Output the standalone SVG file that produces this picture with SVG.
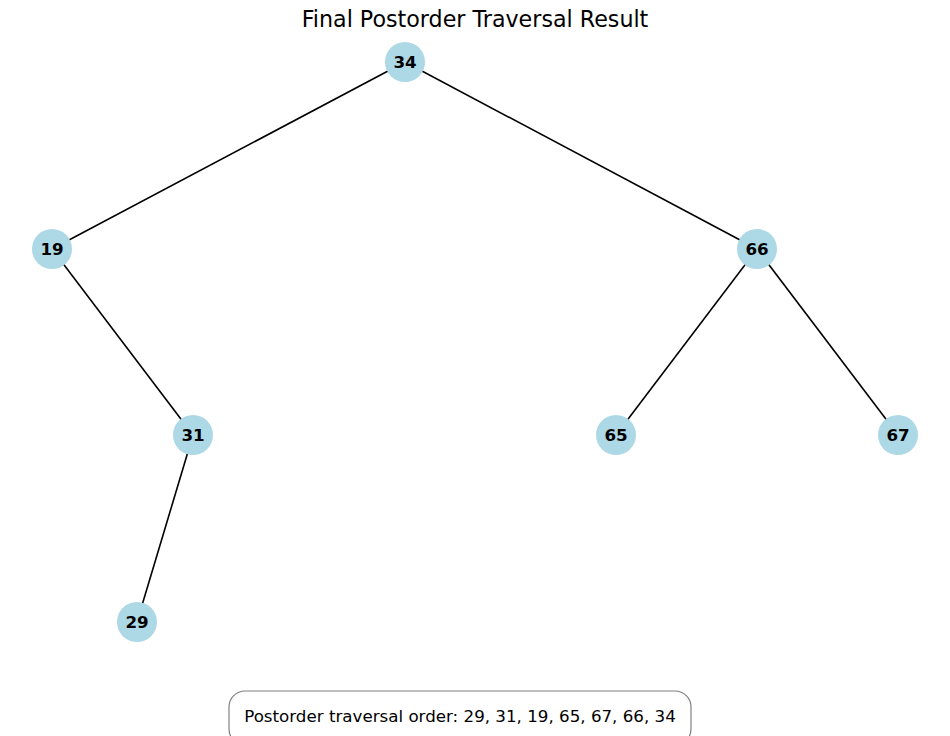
<svg xmlns="http://www.w3.org/2000/svg" width="950" height="736" viewBox="0 0 950 736">
<style>
.edge{stroke:#000;stroke-width:1.6;fill:none}
.node circle{fill:#add8e6}
.node text{font-family:"DejaVu Sans",sans-serif;font-weight:bold;font-size:16.7px;fill:#000;text-anchor:middle;dominant-baseline:central}
.title{font-family:"DejaVu Sans",sans-serif;font-size:22.2px;fill:#000;text-anchor:middle}
.caption{font-family:"DejaVu Sans",sans-serif;font-size:16.7px;fill:#000;text-anchor:middle}
</style>
<rect width="950" height="736" fill="#fff"/>
<text class="title" x="475" y="27">Final Postorder Traversal Result</text>
<g id="edges">
<line class="edge" x1="405" y1="62" x2="52" y2="249"/>
<line class="edge" x1="405" y1="62" x2="757" y2="249"/>
<line class="edge" x1="52" y1="249" x2="193" y2="435"/>
<line class="edge" x1="757" y1="249" x2="616" y2="435"/>
<line class="edge" x1="757" y1="249" x2="898" y2="435"/>
<line class="edge" x1="193" y1="435" x2="137" y2="622"/>
</g>
<g id="n34" class="node"><circle cx="405" cy="62" r="20"/><text x="405" y="62">34</text></g>
<g id="n19" class="node"><circle cx="52" cy="249" r="20"/><text x="52" y="249">19</text></g>
<g id="n66" class="node"><circle cx="757" cy="249" r="20"/><text x="757" y="249">66</text></g>
<g id="n31" class="node"><circle cx="193" cy="435" r="20"/><text x="193" y="435">31</text></g>
<g id="n65" class="node"><circle cx="616" cy="435" r="20"/><text x="616" y="435">65</text></g>
<g id="n67" class="node"><circle cx="898" cy="435" r="20"/><text x="898" y="435">67</text></g>
<g id="n29" class="node"><circle cx="137" cy="622" r="20"/><text x="137" y="622">29</text></g>
<g id="caption">
<rect x="229" y="691" width="462" height="54" rx="16" fill="#fff" stroke="#808080" stroke-width="1.2"/>
<text class="caption" x="460" y="722">Postorder traversal order: 29, 31, 19, 65, 67, 66, 34</text>
</g>
</svg>
